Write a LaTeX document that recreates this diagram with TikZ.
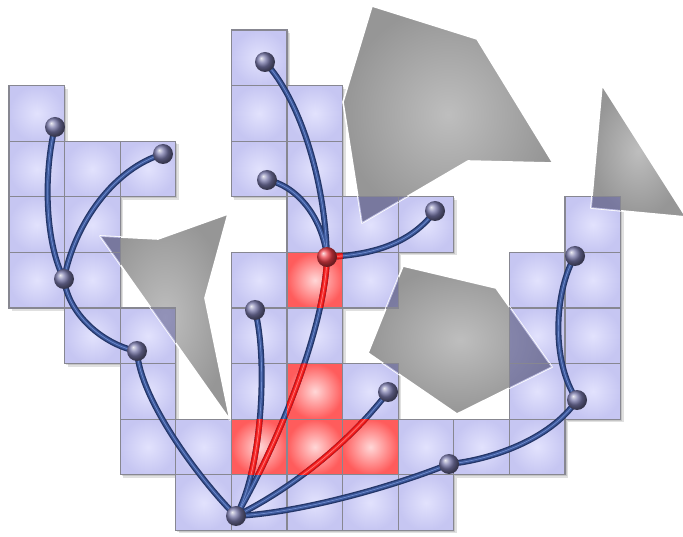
\documentclass[tikz,border=0pt]{standalone}
\usetikzlibrary{calc}
\definecolor{cellin}{RGB}{226,226,253}
\definecolor{cellout}{RGB}{198,198,242}
\definecolor{redin}{RGB}{255,215,215}
\definecolor{redout}{RGB}{255,92,92}
\definecolor{cellborder}{RGB}{135,135,145}
\definecolor{tubedark}{RGB}{36,54,104}
\definecolor{tubemid}{RGB}{60,88,155}
\definecolor{tubehi}{RGB}{112,140,205}
\definecolor{reddark}{RGB}{215,15,15}
\definecolor{redmid}{RGB}{245,40,40}
\definecolor{redhi}{RGB}{255,120,120}
\definecolor{polyin}{RGB}{190,190,190}
\definecolor{polyout}{RGB}{150,150,150}
\definecolor{tint}{RGB}{60,60,175}
\definecolor{ballc}{RGB}{120,120,170}
\definecolor{ballred}{RGB}{235,60,70}
\tikzset{
  cellshadow/.style={fill=black,fill opacity=0.12},
  bluecell/.style={inner color=cellin,outer color=cellout},
  redcell/.style={inner color=redin,outer color=redout},
  cellline/.style={draw=cellborder,line width=1.1pt},
  overlap/.style={fill=tint,fill opacity=0.33},
  poly/.style={inner color=polyin,outer color=polyout},
  polyedge/.style={draw=white,line width=1.6pt,line join=round},
  tA/.style={draw=tubedark,line width=6pt,line cap=round},
  tB/.style={draw=tubemid,line width=3.4pt,line cap=round},
  tC/.style={draw=tubehi,line width=0.7pt,line cap=round},
  rA/.style={draw=reddark,line width=6pt,line cap=round},
  rB/.style={draw=redmid,line width=3.4pt,line cap=round},
  rC/.style={draw=redhi,line width=0.7pt,line cap=round},
  sphere/.style={circle,minimum size=20pt,inner sep=0pt,ball color=ballc},
  redsphere/.style={circle,minimum size=20pt,inner sep=0pt,ball color=ballred},
}
\begin{document}
\begin{tikzpicture}[x=1pt,y=-1pt]
\useasboundingbox (0,0) rectangle (683,537);
\def\allcells{4/0, 0/1,4/1,5/1, 0/2,1/2,2/2,4/2,5/2, 0/3,1/3,5/3,6/3,7/3,10/3,
 0/4,1/4,4/4,5/4,6/4,9/4,10/4, 1/5,2/5,4/5,5/5,9/5,10/5,
 2/6,4/6,5/6,6/6,9/6,10/6, 2/7,3/7,4/7,5/7,6/7,7/7,8/7,9/7, 3/8,4/8,5/8,6/8,7/8}
\def\bluecells{4/0, 0/1,4/1,5/1, 0/2,1/2,2/2,4/2,5/2, 0/3,1/3,5/3,6/3,7/3,10/3,
 0/4,1/4,4/4,6/4,9/4,10/4, 1/5,2/5,4/5,5/5,9/5,10/5,
 2/6,4/6,6/6,9/6,10/6, 2/7,3/7,7/7,8/7,9/7, 3/8,4/8,5/8,6/8,7/8}
\def\redcells{5/4,5/6,4/7,5/7,6/7}
% shadows
\foreach \c/\r in \allcells {
  \fill[cellshadow] (9+55.6*\c+1.5,30+55.6*\r+1.5) rectangle ++(55.6,55.6);
  \fill[cellshadow] (9+55.6*\c+3,30+55.6*\r+3) rectangle ++(55.6,55.6);
}
% cells
\foreach \c/\r in \bluecells {
  \shade[bluecell] (9+55.6*\c,30+55.6*\r) rectangle ++(55.6,55.6);
}
\foreach \c/\r in \redcells {
  \shade[redcell] (9+55.6*\c,30+55.6*\r) rectangle ++(55.6,55.6);
}
\foreach \c/\r in \allcells {
  \draw[cellline] (9+55.6*\c,30+55.6*\r) rectangle ++(55.6,55.6);
}
% obstacles
\shade[poly] (372,6) -- (477,39) -- (553,163) -- (468,161) -- (362,223) -- (343,102) -- cycle;
\draw[polyedge] (372,6) -- (477,39) -- (553,163) -- (468,161) -- (362,223) -- (343,102) -- cycle;
\shade[poly] (602,85) -- (686,217) -- (591,208) -- cycle;
\draw[polyedge] (602,85) -- (686,217) -- (591,208) -- cycle;
\shade[poly] (100,236) -- (158,239) -- (228,214) -- (205,298) -- (230,420) -- cycle;
\draw[polyedge] (100,236) -- (158,239) -- (228,214) -- (205,298) -- (230,420) -- cycle;
\shade[poly] (403,266) -- (496,288) -- (552,367) -- (457,414) -- (368,353) -- cycle;
\draw[polyedge] (403,266) -- (496,288) -- (552,367) -- (457,414) -- (368,353) -- cycle;
% tinted overlap of obstacles and cells
\begin{scope}
\clip (372,6) -- (477,39) -- (553,163) -- (468,161) -- (362,223) -- (343,102) -- cycle
      (602,85) -- (686,217) -- (591,208) -- cycle
      (100,236) -- (158,239) -- (228,214) -- (205,298) -- (230,420) -- cycle
      (403,266) -- (496,288) -- (552,367) -- (457,414) -- (368,353) -- cycle;
\foreach \c/\r in \allcells {
  \fill[overlap] (9+55.6*\c,30+55.6*\r) rectangle ++(55.6,55.6);
  \draw[cellline] (9+55.6*\c,30+55.6*\r) rectangle ++(55.6,55.6);
}
\end{scope}
% tree nodes
\coordinate (R) at (236,516);
\coordinate (J) at (137,351);
\coordinate (G) at (64,279);
\coordinate (B) at (55,127);
\coordinate (C) at (163,154);
\coordinate (A) at (265,62);
\coordinate (D) at (267,180);
\coordinate (F) at (327,257);
\coordinate (E) at (435,211);
\coordinate (I) at (255,310);
\coordinate (K) at (388,392);
\coordinate (M) at (449,464);
\coordinate (L) at (577,400);
\coordinate (H) at (575,256);
% tubes
\foreach \st in {tA,tB,tC}{
  \draw[\st] (R) .. controls (200,480) and (140,400) .. (J);
  \draw[\st] (J) .. controls (108,346) and (69,318) .. (G);
  \draw[\st] (G) .. controls (44,240) and (44,170) .. (B);
  \draw[\st] (G) .. controls (75,222) and (115,168) .. (C);
  \draw[\st] (R) .. controls (262,470) and (268,360) .. (I);
  \draw[\st] (R) .. controls (275,450) and (325,330) .. (F);
  \draw[\st] (R) .. controls (285,492) and (345,448) .. (K);
  \draw[\st] (R) .. controls (300,513) and (395,486) .. (M);
  \draw[\st] (M) .. controls (490,460) and (550,440) .. (L);
  \draw[\st] (L) .. controls (550,360) and (555,290) .. (H);
  \draw[\st] (F) .. controls (325,180) and (300,100) .. (A);
  \draw[\st] (F) .. controls (322,215) and (295,185) .. (D);
  \draw[\st] (F) .. controls (370,255) and (410,245) .. (E);
}
% red highlight inside red cells
\begin{scope}
\clip (287,252.4) rectangle ++(55.6,55.6)
      (287,363.6) rectangle ++(55.6,55.6)
      (231.4,419.2) rectangle ++(166.8,55.6);
\foreach \st in {rA,rB,rC}{
  \draw[\st] (R) .. controls (262,470) and (268,360) .. (I);
  \draw[\st] (R) .. controls (275,450) and (325,330) .. (F);
  \draw[\st] (R) .. controls (285,492) and (345,448) .. (K);
  \draw[\st] (F) .. controls (325,180) and (300,100) .. (A);
  \draw[\st] (F) .. controls (322,215) and (295,185) .. (D);
  \draw[\st] (F) .. controls (370,255) and (410,245) .. (E);
}
\end{scope}
% spheres
\foreach \n in {R,J,G,B,C,A,D,E,I,K,M,L,H}{
  \node[sphere] (s\n) at (\n) {};
}
\node[redsphere] (sF) at (F) {};
\end{tikzpicture}
\end{document}
